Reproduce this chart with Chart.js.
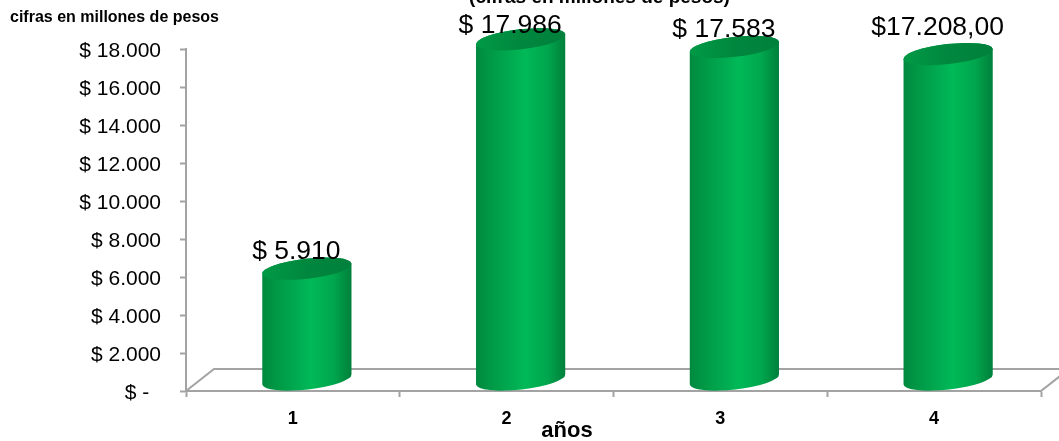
<!DOCTYPE html>
<html>
<head>
<meta charset="utf-8">
<style>
  html, body { margin: 0; padding: 0; background: #fff; overflow: hidden; }
  #wrap { width: 1059px; height: 441px; position: relative; }
</style>
<script src="https://cdn.jsdelivr.net/npm/chart.js@4/dist/chart.umd.min.js"></script>
</head>
<body>
<div id="wrap"><canvas id="grafico" width="1059" height="441"></canvas></div>
<script>
// Datos
var categorias = ['1', '2', '3', '4'];
var valores = [5910, 17986, 17583, 17208];
var etiquetas = ['$ 5.910', '$ 17.986', '$ 17.583', '$17.208,00'];
var ticksY = ['$ -  ', '$ 2.000', '$ 4.000', '$ 6.000', '$ 8.000', '$ 10.000', '$ 12.000', '$ 14.000', '$ 16.000', '$ 18.000'];

var FUENTE = '"Liberation Sans", Arial, sans-serif';
var GRIS = '#a3a3a3';

// Profundidad del "piso" 3D
var PISO_X = 28, PISO_Y = 22;
var GIRO = -6.5 * Math.PI / 180, RY = 10;
// Las etiquetas estan movidas a mano en el original
var subirEtiqueta = [27, 24, 27, 36];

// ── Piso en perspectiva, detras de las columnas ──
var pisoPlugin = {
  id: 'piso',
  beforeDatasetsDraw: function (chart) {
    var c = chart.ctx, a = chart.chartArea;
    c.save();
    c.strokeStyle = GRIS;
    c.lineWidth = 2;
    c.beginPath();
    c.moveTo(a.left, a.bottom);
    c.lineTo(a.left + PISO_X, a.bottom - PISO_Y);
    c.lineTo(a.right + PISO_X, a.bottom - PISO_Y);
    c.lineTo(a.right, a.bottom);
    c.stroke();
    c.restore();
  }
};

// ── Cilindros y textos, a partir de los elementos de barra ──
var cilindrosPlugin = {
  id: 'cilindros',
  afterDatasetsDraw: function (chart) {
    var c = chart.ctx;
    var barras = chart.getDatasetMeta(0).data;
    barras.forEach(function (b) {
      var cx = b.x + PISO_X / 2, rx = b.width / 2;
      var arriba = b.y - PISO_Y / 2 + 1, abajo = b.base - PISO_Y / 2;
      var g = c.createLinearGradient(cx - rx, 0, cx + rx, 0);
      g.addColorStop(0, '#00893f');
      g.addColorStop(0.18, '#009a46');
      g.addColorStop(0.38, '#00aa50');
      g.addColorStop(0.55, '#00b957');
      g.addColorStop(0.8, '#00a64d');
      g.addColorStop(1, '#007f3b');
      c.save();
      c.fillStyle = g;
      c.beginPath();
      c.ellipse(cx, abajo, rx, RY, GIRO, Math.PI, 0, true);
      c.ellipse(cx, arriba, rx, RY, GIRO, 0, Math.PI, true);
      c.closePath();
      c.fill();
      var t = c.createLinearGradient(cx - rx, 0, cx + rx, 0);
      t.addColorStop(0, '#009a46');
      t.addColorStop(0.5, '#00873e');
      t.addColorStop(1, '#00803c');
      c.fillStyle = t;
      c.beginPath();
      c.ellipse(cx, arriba, rx, RY, GIRO, 0, Math.PI * 2);
      c.fill();
      c.restore();
    });
    c.save();
    c.fillStyle = '#000';
    c.textAlign = 'center';
    c.textBaseline = 'middle';
    c.font = '26.5px ' + FUENTE;
    barras.forEach(function (b, i) {
      c.fillText(etiquetas[i], b.x + PISO_X / 2 - 10.5, b.y - subirEtiqueta[i]);
    });
    c.font = 'bold 16px ' + FUENTE;
    c.textAlign = 'left';
    c.fillText('cifras en millones de pesos', 10, 18);
    c.font = 'bold 19px ' + FUENTE;
    c.textAlign = 'center';
    c.fillText('(cifras en millones de pesos)', 599.5, -2);
    c.font = 'bold 22px ' + FUENTE;
    c.fillText('años', 567, 431);
    c.restore();
  }
};

new Chart(document.getElementById('grafico'), {
  type: 'bar',
  data: {
    labels: categorias,
    datasets: [{
      data: valores,
      backgroundColor: 'rgba(0,0,0,0)',
      barPercentage: 0.42,
      categoryPercentage: 1
    }]
  },
  options: {
    responsive: false,
    animation: false,
    layout: { padding: { top: 49, right: 18, left: 0, bottom: 0 } },
    plugins: { legend: { display: false }, tooltip: { enabled: false } },
    scales: {
      x: {
        afterFit: function (s) { s.height = 50; },
        grid: { drawOnChartArea: false, color: GRIS, tickLength: 6, tickWidth: 2 },
        border: { color: GRIS, width: 2 },
        ticks: { color: '#000', font: { family: FUENTE, size: 18, weight: 'bold' }, padding: 11, maxRotation: 0 }
      },
      y: {
        min: 0, max: 18000,
        afterFit: function (s) { s.width = 186; },
        grid: { drawOnChartArea: false, color: GRIS, tickLength: 6, tickWidth: 2 },
        border: { color: GRIS, width: 2 },
        ticks: {
          stepSize: 2000,
          color: '#000',
          padding: 19,
          labelOffset: 2,
          font: { family: FUENTE, size: 21 },
          callback: function (v) { return ticksY[v / 2000]; }
        }
      }
    }
  },
  plugins: [pisoPlugin, cilindrosPlugin]
});
</script>
</body>
</html>
